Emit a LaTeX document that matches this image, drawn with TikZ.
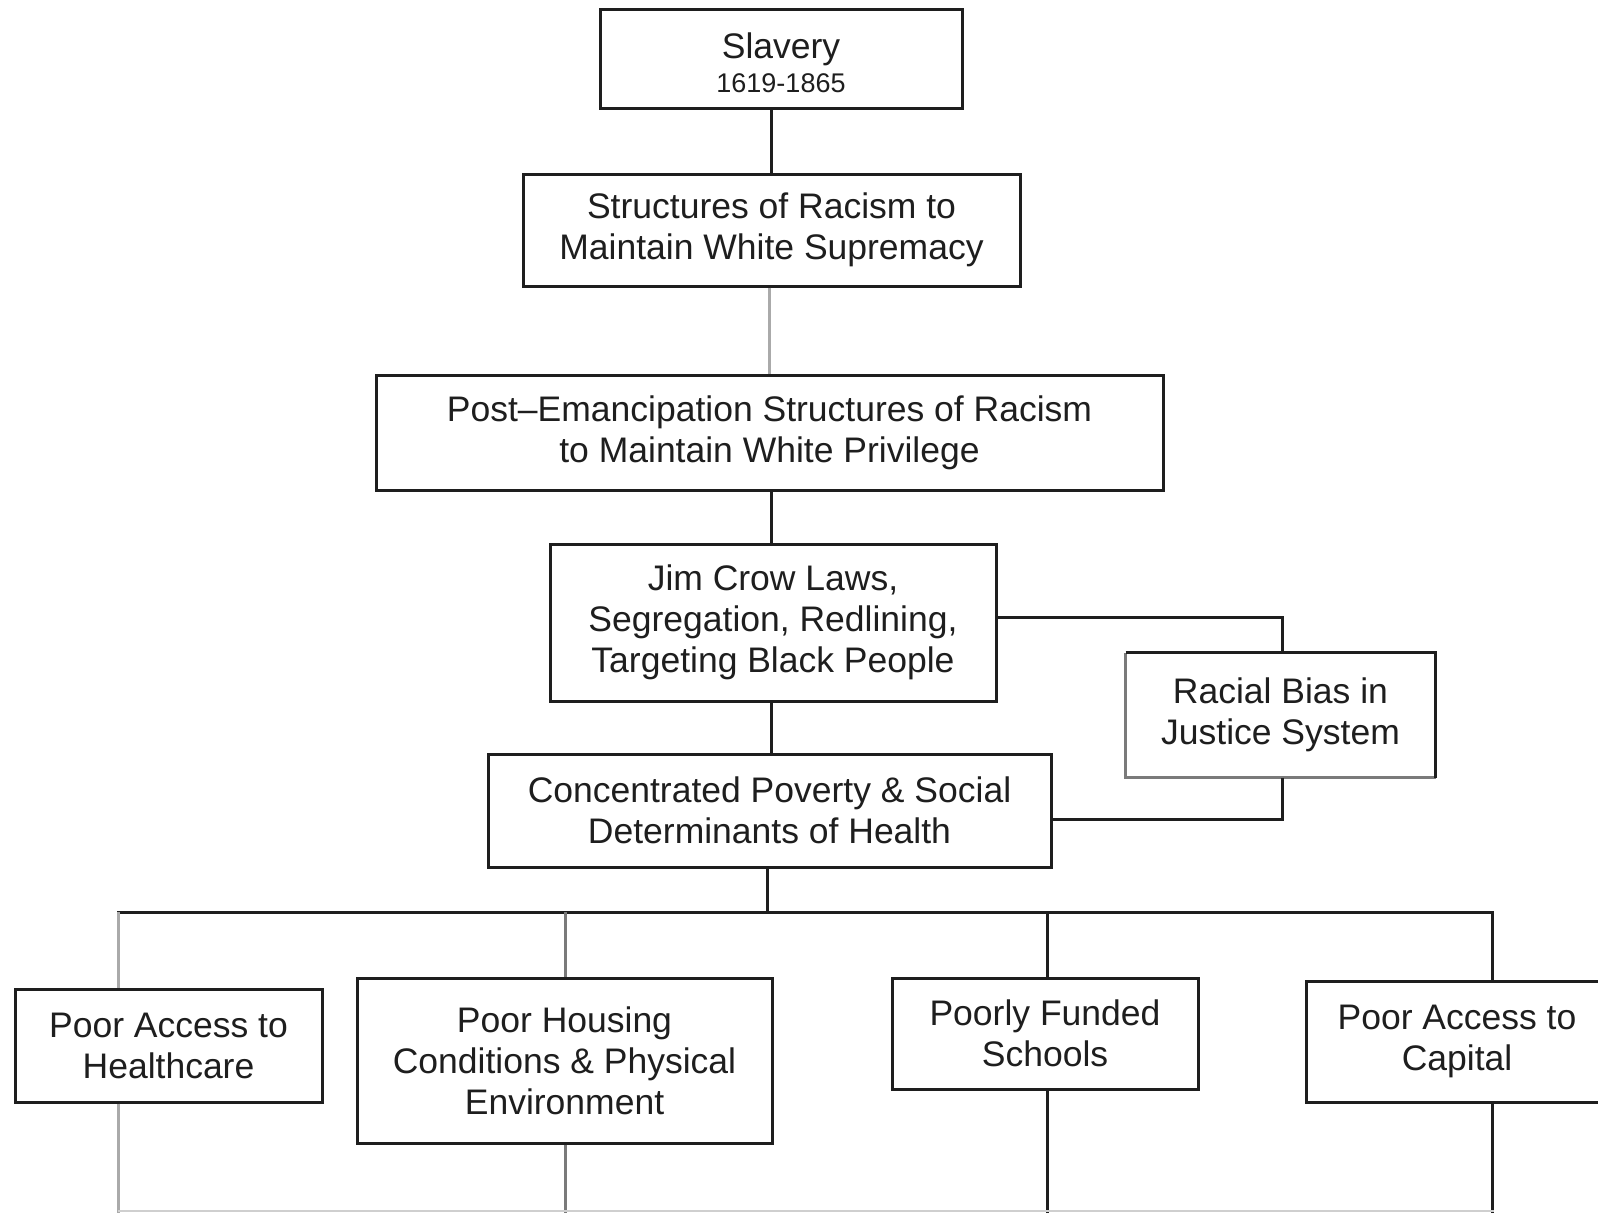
\documentclass[tikz,border=0pt]{standalone}
\usepackage{fontspec}
\setmainfont{Liberation Sans}
\usetikzlibrary{calc}
\definecolor{ink}{HTML}{1E1E1E}
\definecolor{midgray}{HTML}{7A7A7A}
\definecolor{lightgray}{HTML}{AAAAAA}
\definecolor{palegray}{HTML}{CFCFCF}
\begin{document}
\begin{tikzpicture}[x=1pt,y=-1pt,
  box/.style={draw=ink, line width=3pt, align=center, inner sep=0pt,
    text=ink, font=\fontsize{35.5}{41}\selectfont},
  label text/.style={align=center, inner sep=0pt, text=ink,
    font=\fontsize{35.5}{41}\selectfont},
  link/.style={draw=ink, line width=3pt},
  greylink/.style={draw=lightgray, line width=3pt},
  midlink/.style={draw=midgray, line width=3pt},
  palelink/.style={draw=palegray, line width=2pt}]
\useasboundingbox (0,0) rectangle (1598,1213);
\clip (0,0) rectangle (1598,1213);
\fill[white] (0,0) rectangle (1598,1213);

% main chain
\node[box, minimum width=362pt, minimum height=99pt] (slav) at (781,58.5) {};
\node[label text] (slavtext) at (781,63)
  {Slavery\\[-7pt]{\fontsize{27}{30}\selectfont 1619-1865}};
\node[box, minimum width=497pt, minimum height=112pt] (struct) at (771.5,230)
  {Structures of Racism to\\Maintain White Supremacy};
\node[box, minimum width=787pt, minimum height=115pt] (post) at (769.5,432.5)
  {Post–Emancipation Structures of Racism\\to Maintain White Privilege};
\node[box, minimum width=446pt, minimum height=157pt] (jim) at (773,622.5)
  {Jim Crow Laws,\\Segregation, Redlining,\\Targeting Black People};
\node[box, draw=none, minimum width=307pt, minimum height=122pt] (racial) at (1280.5,715)
  {Racial Bias in\\Justice System};
\node[box, minimum width=563pt, minimum height=113pt] (conc) at (769.5,810.5)
  {Concentrated Poverty \& Social\\Determinants of Health};

% bottom row
\node[box, minimum width=307pt, minimum height=113pt] (health) at (168.5,1045.5)
  {Poor Access to\\Healthcare};
\node[box, minimum width=415pt, minimum height=165pt] (housing) at (564.5,1060.5)
  {Poor Housing\\Conditions \& Physical\\Environment};
\node[box, minimum width=306pt, minimum height=111pt] (schools) at (1045,1033.5)
  {Poorly Funded\\Schools};
\node[box, minimum width=302pt, minimum height=121pt] (capital) at (1457,1041.5)
  {Poor Access to\\Capital};

% racial bias box: grey left and bottom sides, dark top and right sides
\draw[midgray, line width=3pt] (racial.north west) -- (racial.south west) -- (racial.south east);
\draw[ink, line width=3pt] (racial.north west) -- (racial.north east) -- (racial.south east);

% vertical spine
\coordinate (spine) at (771,0);
\coordinate (spineg) at (769,0);
\draw[link] (slav.south -| spine) -- (struct.north -| spine);
\draw[greylink] (struct.south -| spineg) -- (post.north -| spineg);
\draw[link] (post.south -| spine) -- (jim.north -| spine);
\draw[link] (jim.south -| spine) -- (conc.north -| spine);

% side loop through the justice system
\coordinate (jr) at (1282,617);
\coordinate (rc) at (1282,819);
\draw[link] (jim.east |- jr) -- (jr) -- (racial.north -| jr);
\draw[link] (racial.south -| rc) -- (rc) -- (conc.east |- rc);

% distribution bus
\coordinate (bus) at (767,912);
\coordinate (dH) at (118,912);
\coordinate (dP) at (565,912);
\coordinate (dS) at (1047,912);
\coordinate (dC) at (1492,912);
\coordinate (floor) at (0,1213);
\draw[link] (conc.south -| bus) -- (bus);
\draw[link, line cap=rect] (dH) -- (dC);
\draw[greylink] (dH) -- (health.north -| dH);
\draw[midlink] (dP) -- (housing.north -| dP);
\draw[link] (dS) -- (schools.north -| dS);
\draw[link] (dC) -- (capital.north -| dC);
\draw[greylink] (health.south -| dH) -- (dH |- floor);
\draw[midlink] (housing.south -| dP) -- (dP |- floor);
\draw[link] (schools.south -| dS) -- (dS |- floor);
\draw[link] (capital.south -| dC) -- (dC |- floor);
\coordinate (bl) at (118,1211);
\coordinate (br) at (1494,1211);
\draw[palelink] (bl) -- (br);
\end{tikzpicture}
\end{document}
